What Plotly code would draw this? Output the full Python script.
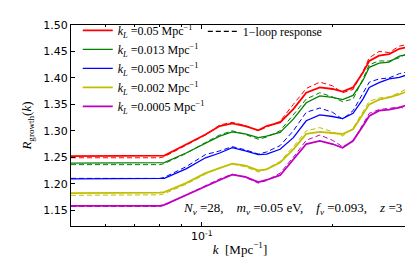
import numpy as np
import plotly.graph_objects as go

k = [0.05, 0.06, 0.07, 0.08, 0.082, 0.092, 0.102, 0.11, 0.1175, 0.126, 0.135, 0.141,
     0.1515, 0.1625, 0.174, 0.187, 0.2, 0.211, 0.223, 0.235, 0.243, 0.256, 0.27, 0.285, 0.3]

labels = ["0.05", "0.013", "0.005", "0.002", "0.0005"]
colors = ["#ff0000", "#008000", "#0000ff", "#bfbf00", "#bf00bf"]

r_005 = [1.252, 1.252, 1.252, 1.252, 1.253, 1.274, 1.293, 1.309, 1.314, 1.309, 1.301, 1.309,
         1.316, 1.341, 1.372, 1.382, 1.379, 1.374, 1.382, 1.410, 1.432, 1.442, 1.445, 1.455, 1.459]
r_0013 = [1.239, 1.239, 1.239, 1.239, 1.240, 1.258, 1.277, 1.290, 1.298, 1.294, 1.287, 1.290,
          1.297, 1.322, 1.353, 1.366, 1.363, 1.359, 1.367, 1.395, 1.420, 1.428, 1.430, 1.441, 1.445]
r_0005 = [1.209, 1.209, 1.209, 1.209, 1.210, 1.228, 1.249, 1.258, 1.268, 1.262, 1.255, 1.256,
          1.265, 1.287, 1.319, 1.330, 1.327, 1.323, 1.333, 1.360, 1.382, 1.391, 1.398, 1.401, 1.407]
r_0002 = [1.182, 1.182, 1.182, 1.183, 1.184, 1.201, 1.220, 1.230, 1.238, 1.234, 1.225, 1.227,
          1.240, 1.265, 1.294, 1.298, 1.295, 1.294, 1.303, 1.331, 1.350, 1.359, 1.363, 1.369, 1.376]
r_00005 = [1.158, 1.158, 1.158, 1.158, 1.160, 1.179, 1.195, 1.207, 1.217, 1.213, 1.203, 1.207,
           1.216, 1.246, 1.275, 1.281, 1.275, 1.268, 1.281, 1.309, 1.328, 1.338, 1.340, 1.344, 1.350]

d_005 = [1.249, 1.249, 1.249, 1.249, 1.251, 1.273, 1.292, 1.311, 1.316, 1.310, 1.300, 1.307,
         1.318, 1.350, 1.380, 1.392, 1.385, 1.372, 1.378, 1.412, 1.438, 1.450, 1.448, 1.460, 1.464]
d_0013 = [1.236, 1.236, 1.236, 1.236, 1.238, 1.257, 1.278, 1.292, 1.300, 1.293, 1.284, 1.288,
          1.300, 1.330, 1.360, 1.372, 1.364, 1.355, 1.360, 1.398, 1.425, 1.432, 1.432, 1.438, 1.448]
d_0005 = [1.210, 1.210, 1.210, 1.210, 1.212, 1.232, 1.255, 1.262, 1.270, 1.264, 1.256, 1.260,
          1.272, 1.300, 1.335, 1.343, 1.335, 1.322, 1.338, 1.372, 1.392, 1.398, 1.400, 1.408, 1.412]
d_0002 = [1.178, 1.178, 1.178, 1.179, 1.181, 1.199, 1.218, 1.230, 1.237, 1.232, 1.222, 1.228,
          1.242, 1.270, 1.300, 1.306, 1.298, 1.290, 1.305, 1.335, 1.356, 1.362, 1.364, 1.372, 1.382]
d_00005 = [1.157, 1.157, 1.157, 1.157, 1.159, 1.178, 1.196, 1.209, 1.218, 1.212, 1.201, 1.206,
           1.220, 1.250, 1.282, 1.292, 1.282, 1.270, 1.280, 1.312, 1.333, 1.340, 1.343, 1.345, 1.340]

solid = [r_005, r_0013, r_0005, r_0002, r_00005]
dashed = [d_005, d_0013, d_0005, d_0002, d_00005]
widths = [1.8, 1.3, 1.3, 1.8, 1.8]

yticks = [1.15, 1.20, 1.25, 1.30, 1.35, 1.40, 1.45, 1.50]
xminor = [0.06, 0.07, 0.08, 0.09, 0.2]

serif = "Liberation Serif"
sans = "DejaVu Sans"

fig = go.Figure()
for i, (lab, col, s, d, w) in enumerate(zip(labels, colors, solid, dashed, widths)):
    fig.add_trace(go.Scatter(x=k, y=d, mode="lines", showlegend=False,
                             line=dict(color=col, width=1.0, dash="5px,3px")))
    fig.add_trace(go.Scatter(x=k, y=s, mode="lines",
                             name="<i>k</i><sub><i>L</i></sub> =%s Mpc<sup>−1</sup>" % lab,
                             line=dict(color=col, width=w), legend="legend"))
fig.add_trace(go.Scatter(x=[None], y=[None], mode="lines", name="1−loop response",
                         line=dict(color="black", width=1.2, dash="5px,3px"), legend="legend2"))

axis_common = dict(showline=True, linecolor="black", linewidth=1, mirror="ticks",
                   ticks="inside", tickcolor="black", showgrid=False, zeroline=False,
                   tickfont=dict(family=sans, size=11, color="black"))

fig.update_layout(
    width=413, height=275,
    margin=dict(l=63, r=12, t=17, b=57, autoexpand=False),
    plot_bgcolor="white", paper_bgcolor="white",
    xaxis=dict(type="log", range=[np.log10(0.05), np.log10(0.3)],
               tickmode="array", tickvals=[0.1], ticktext=["10<sup>-1</sup>"], ticklen=4,
               minor=dict(tickmode="array", tickvals=xminor, ticks="inside", ticklen=2,
                          tickcolor="black", showgrid=False),
               title=dict(text="<i>k</i>  [Mpc<sup>−1</sup>]", font=dict(family=serif, size=13, color="black"),
                          standoff=2),
               **axis_common),
    yaxis=dict(range=[1.12, 1.50], tickmode="array", tickvals=yticks,
               ticktext=["%.2f" % v for v in yticks], ticklen=4,
               title=dict(text="<i>R</i><sub>growth</sub>(<i>k</i>)", font=dict(family=serif, size=13, color="black"),
                          standoff=8),
               **axis_common),
    legend=dict(x=0.02, y=1.045, xanchor="left", yanchor="top", bgcolor="rgba(0,0,0,0)",
                font=dict(family=serif, size=12, color="black"), itemwidth=30),
    legend2=dict(x=0.39, y=1.04, xanchor="left", yanchor="top", bgcolor="rgba(0,0,0,0)",
                 font=dict(family=serif, size=12, color="black"), itemwidth=30),
    annotations=[dict(xref="paper", yref="paper", x=0.985, y=0.035, xanchor="right", yanchor="bottom",
                      showarrow=False,
                      text="<i>N</i><sub><i>ν</i></sub> =28,&nbsp;&nbsp;&nbsp; <i>m</i><sub><i>ν</i></sub> =0.05 eV,&nbsp;&nbsp;&nbsp; "
                           "<i>f</i><sub><i>ν</i></sub> =0.093,&nbsp;&nbsp;&nbsp; <i>z</i> =3",
                      font=dict(family=serif, size=13, color="black"))],
)

fig.write_html("out.html")
